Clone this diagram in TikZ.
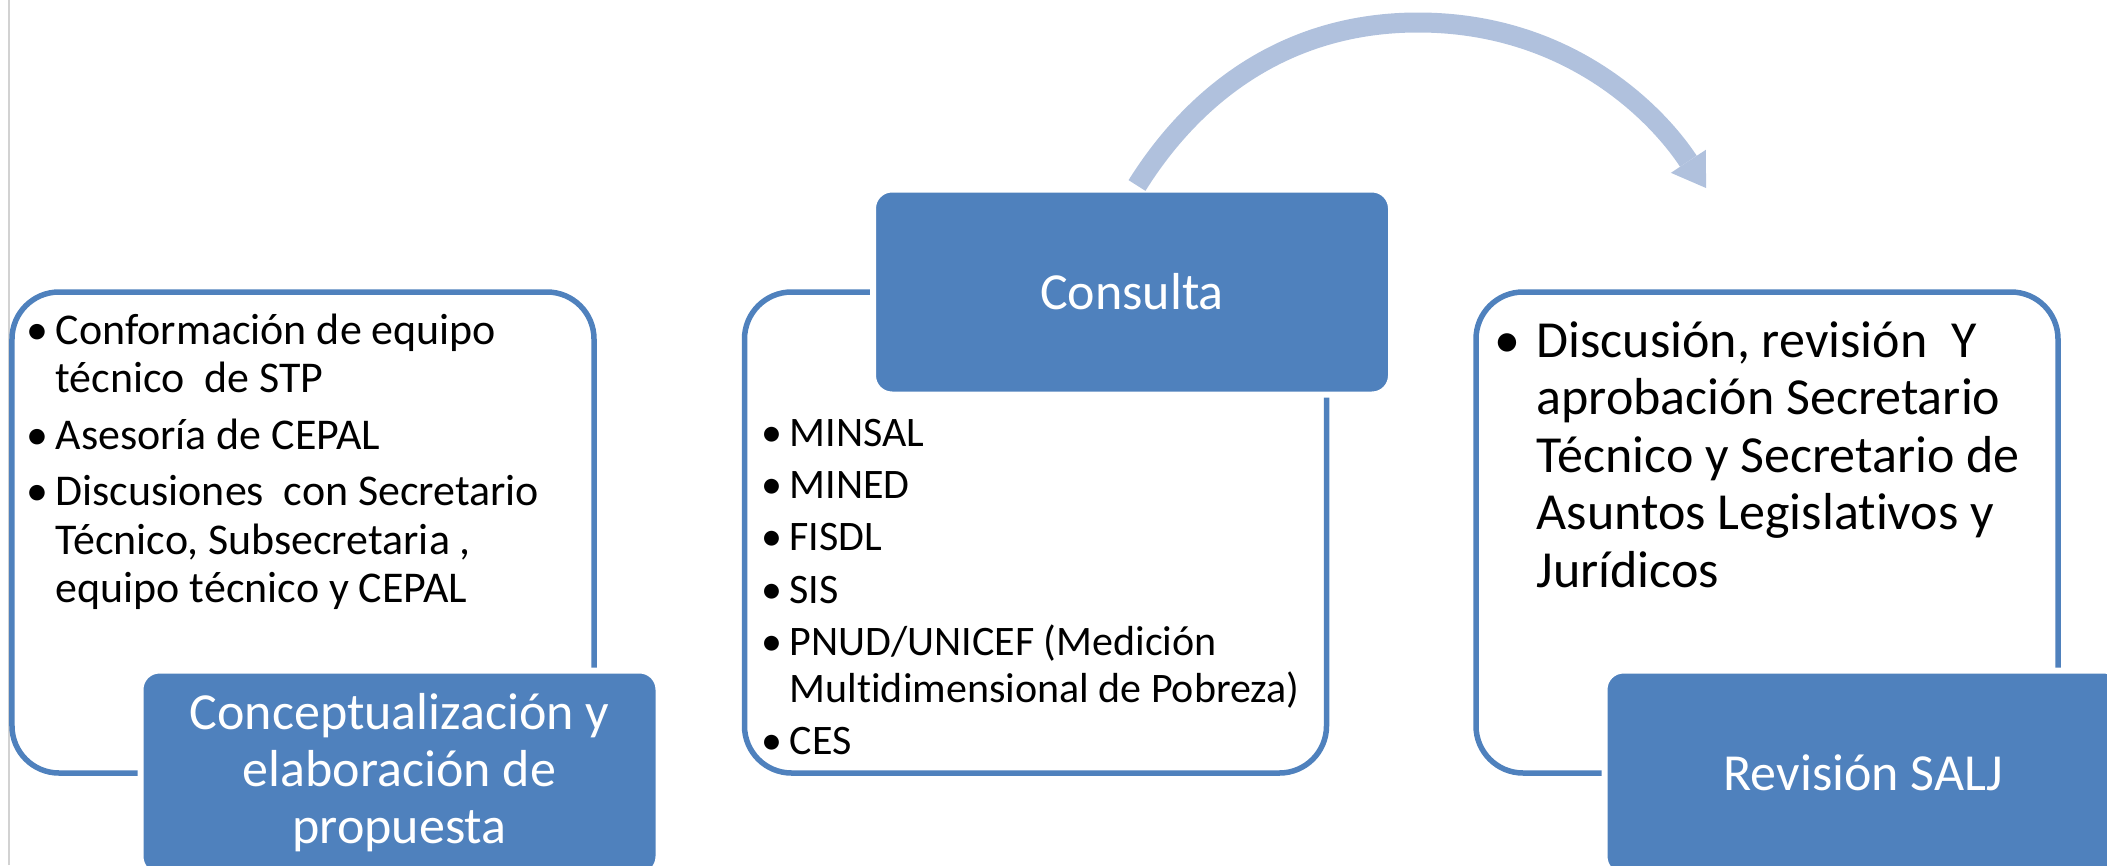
\documentclass[tikz,border=0pt]{standalone}
\usepackage{fontspec}
\setmainfont{Carlito}[Ligatures=CommonOff]
\usepackage{tikz}
\usetikzlibrary{arrows.meta}
\definecolor{boxblue}{HTML}{4F81BD}
\definecolor{arrowblue}{HTML}{B0C1DD}
\newcommand{\itembul}[1][0.36cm]{\llap{\makebox[#1]{\textbullet}}}

\begin{document}
\begin{tikzpicture}[
  listbox/.style={draw=boxblue, line width=0.055cm, fill=white, rounded corners=0.47cm,
    minimum width=5.82cm, minimum height=4.81cm, inner sep=0pt, outer sep=0pt},
  titlebox/.style={draw=white, line width=0.06cm, fill=boxblue, rounded corners=0.19cm,
    minimum width=5.18cm, minimum height=2.05cm, inner sep=0pt, outer sep=0pt,
    text=white, align=center, font=\fontsize{14.8pt}{16.2pt}\selectfont},
  itemtext/.style={anchor=north west, inner sep=0pt, align=left}
]
\clip (0,0) rectangle (21.07,8.65);
\draw[gray!35, line width=0.02cm] (0.093,0) -- (0.093,8.65);

% Cajas blancas
\node[listbox] (concep) at (3.03,3.325) {};
\node[listbox] (consul) at (10.355,3.325) {};
\node[listbox] (salj) at (17.67,3.325) {};

% Titulos
\node[titlebox] (concept) at ([xshift=0.965cm]concep.south) {Conceptualización y\\elaboración de\\propuesta};
\node[titlebox] (cons) at ([xshift=0.965cm]consul.north) {Consulta};
\node[titlebox] (saljt) at ([xshift=0.965cm]salj.south) {Revisión SALJ};

% Listas
\node[itemtext, font=\fontsize{12.5pt}{13.8pt}\selectfont] (concepitems) at (0.55,5.52) {%
\itembul Conformación de equipo\\%
técnico~ de STP\\[2.3pt]%
\itembul Asesoría de CEPAL\\[2.3pt]%
\itembul Discusiones~ con Secretario\\%
Técnico, Subsecretaria ,\\%
equipo técnico y CEPAL};

\node[itemtext, font=\fontsize{11.95pt}{13.37pt}\selectfont] (consitems) at (7.89,4.465) {%
\itembul MINSAL\\[1.5pt]%
\itembul MINED\\[1.5pt]%
\itembul FISDL\\[1.5pt]%
\itembul SIS\\[1.5pt]%
\itembul PNUD/UNICEF (Medición\\%
Multidimensional de Pobreza)\\[1.5pt]%
\itembul CES};

\node[itemtext, font=\fontsize{14.8pt}{16.36pt}\selectfont] (saljitems) at (15.36,5.44) {%
\itembul[0.58cm]Discusión, revisión~ Y\\%
aprobación Secretario\\%
Técnico y Secretario de\\%
Asuntos Legislativos y\\%
Jurídicos};

% Flecha
\coordinate (tip) at (17.06,6.77);
\draw[arrowblue, line width=0.2cm, -{Triangle[length=0.32cm, width=0.42cm, line width=0pt]}]
  ([xshift=0.05cm,yshift=0.04cm]cons.north) .. controls (11.955,7.73) and (12.88,8.425) .. (14.18,8.425)
  .. controls (15.68,8.425) and (16.565,7.522) .. (tip);

\end{tikzpicture}
\end{document}
